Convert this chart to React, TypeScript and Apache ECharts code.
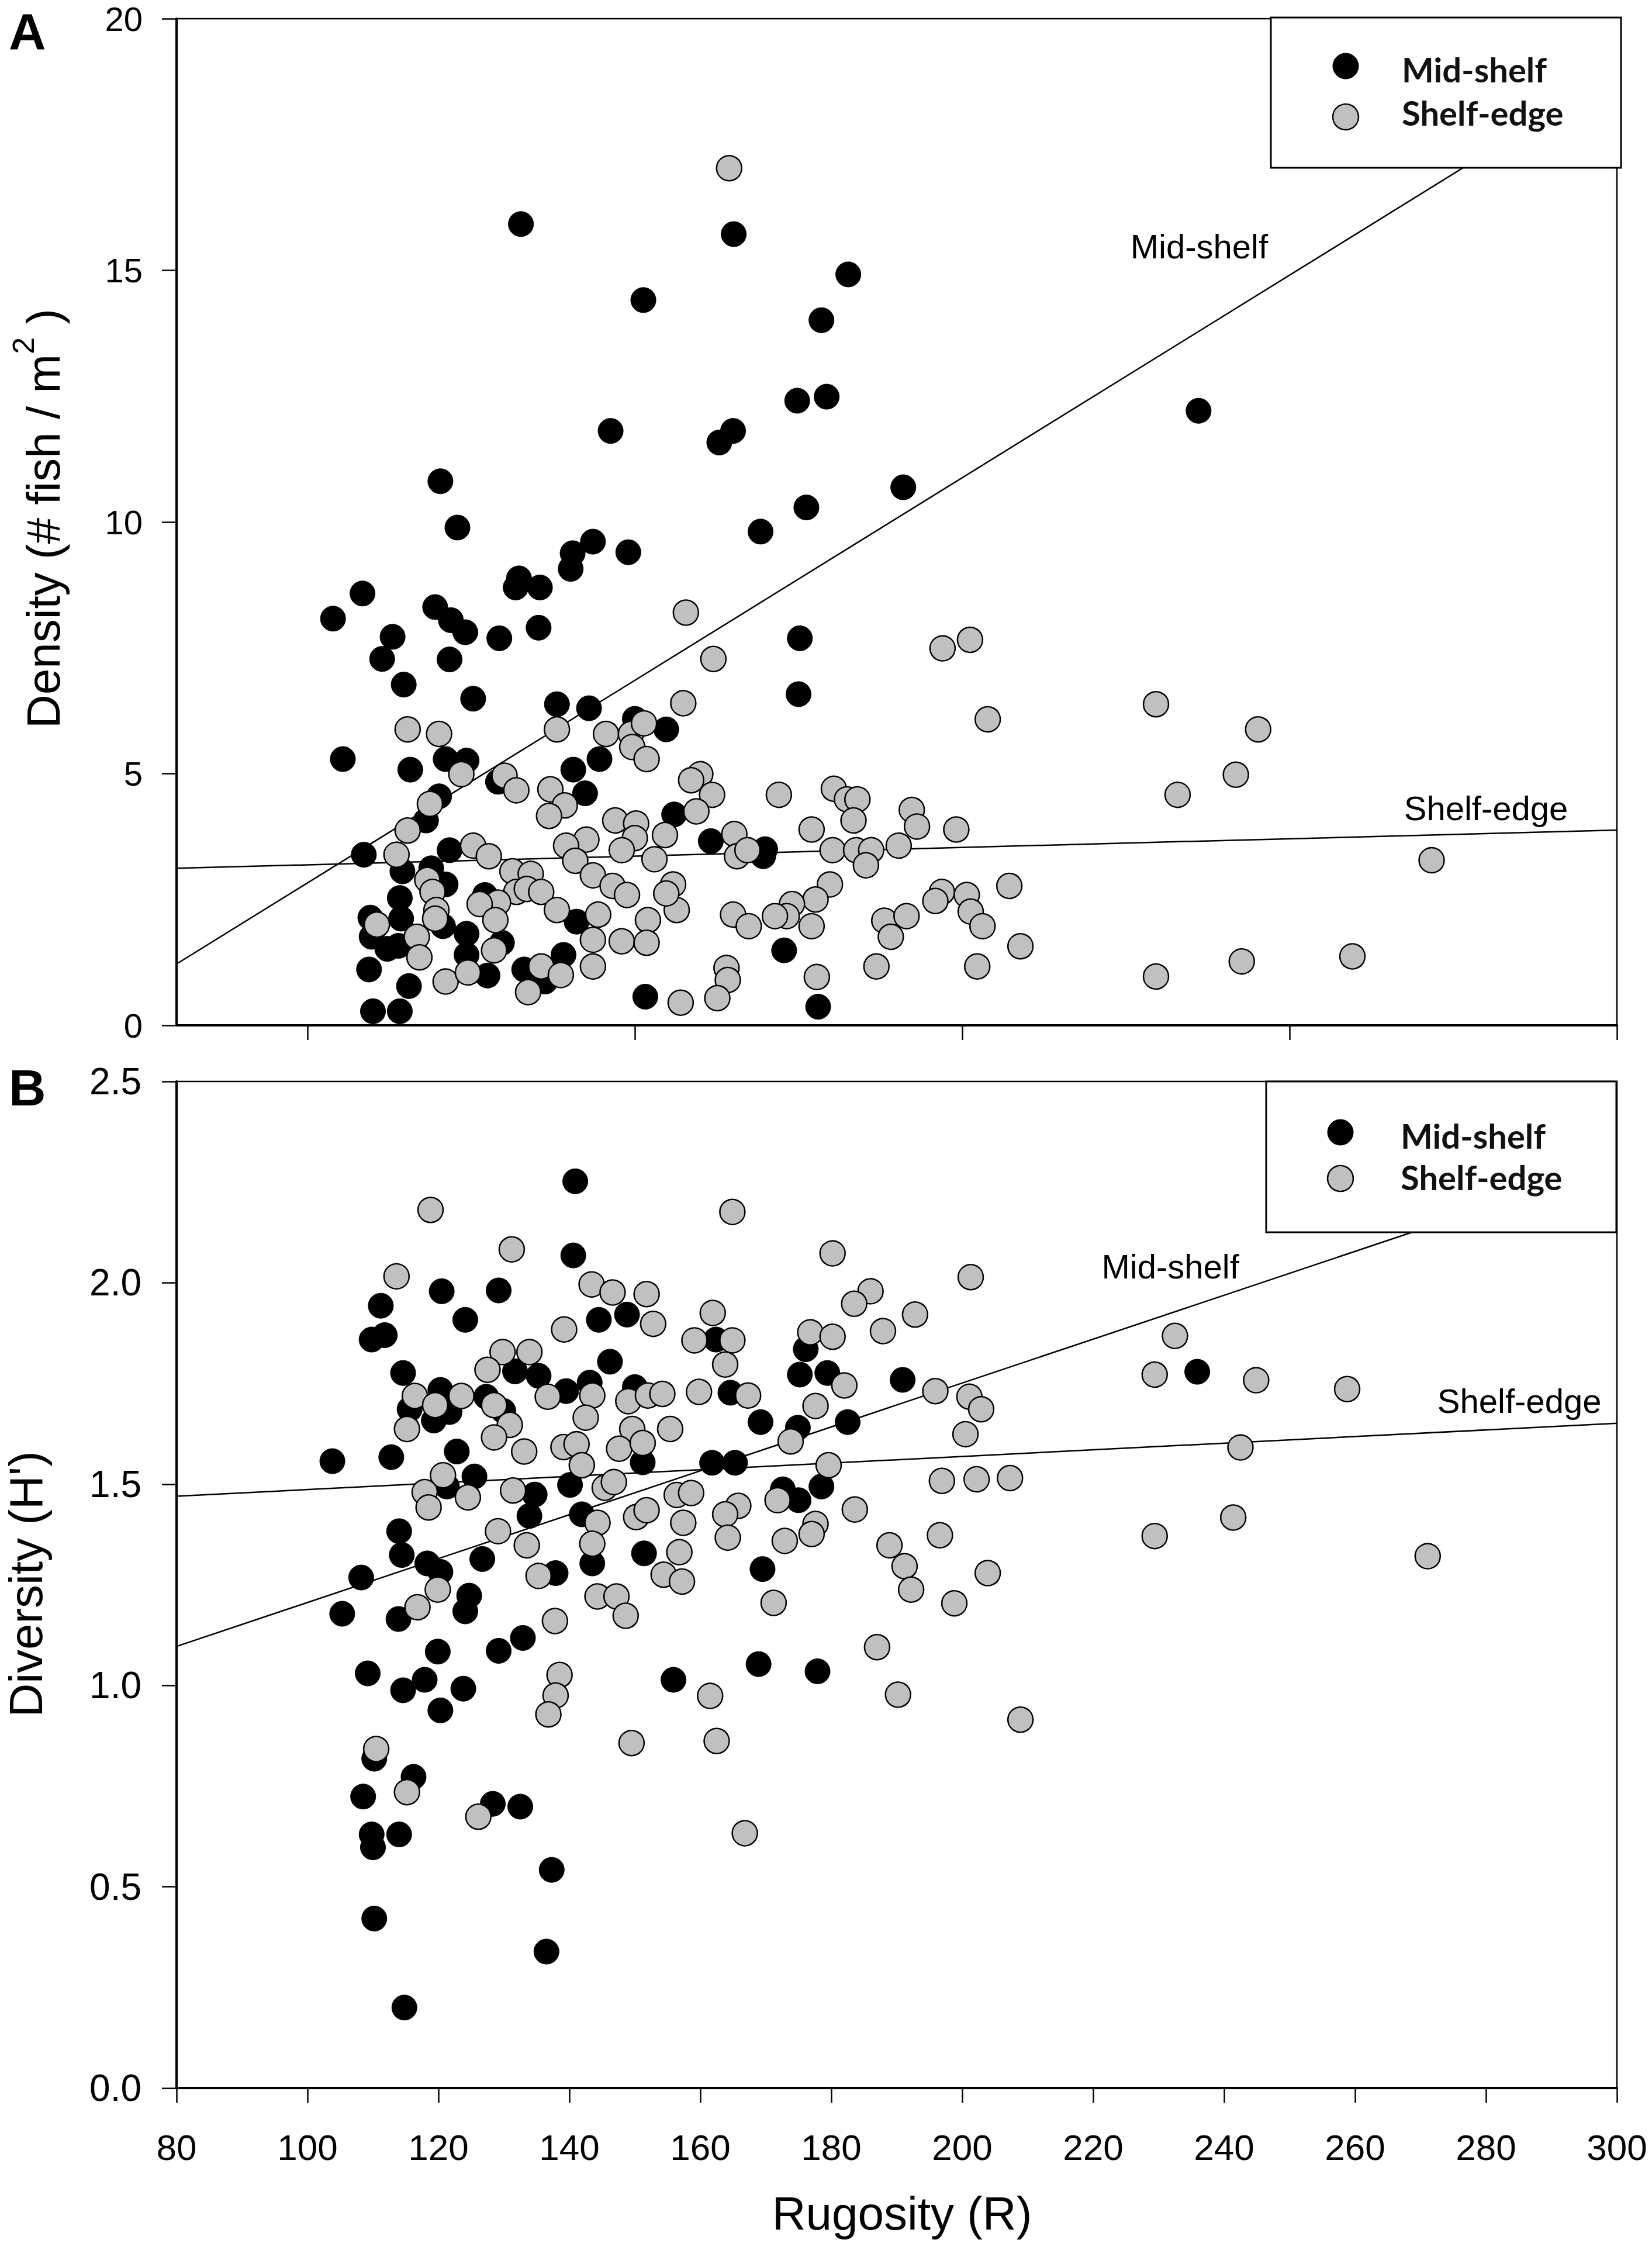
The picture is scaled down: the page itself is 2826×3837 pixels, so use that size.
import React, { useEffect, useRef } from "react";
import * as echarts from "echarts";

const PAGE_W = 2826;
const PAGE_H = 3837;

// ---------- Panel A: Density (# fish / m2) vs Rugosity ----------
const densityMidShelf: number[][] = [
  [132.6, 15.92], [165.1, 15.72], [151.3, 14.41], [182.6, 14.92], [178.5, 14.01], [174.8, 12.41],
  [179.3, 12.49], [146.3, 11.81], [162.9, 11.58], [165.0, 11.81], [120.3, 10.81], [122.9, 9.89],
  [176.2, 10.29], [169.2, 9.81], [143.6, 9.61], [140.5, 9.38], [140.2, 9.07], [149.0, 9.40],
  [191.0, 10.69], [236.1, 12.21], [175.2, 7.69], [175.0, 6.58],
  [132.3, 8.88], [131.8, 8.70], [135.5, 8.70], [108.4, 8.58], [103.9, 8.08], [119.5, 8.31],
  [121.9, 8.05], [124.1, 7.81], [129.3, 7.69], [135.3, 7.9], [113.0, 7.72], [111.4, 7.28],
  [121.7, 7.27], [114.7, 6.77], [125.3, 6.49], [138.1, 6.38], [143.0, 6.3], [150.0, 6.09],
  [154.8, 5.88], [105.4, 5.29], [115.7, 5.08], [121.1, 5.29], [124.3, 5.26], [129.1, 4.84],
  [144.6, 5.29], [140.6, 5.08], [142.4, 4.61], [120.1, 4.55], [118.1, 4.07], [156.0, 4.19],
  [108.6, 3.39], [161.6, 3.66], [114.5, 3.06], [118.9, 3.12], [121.1, 2.8], [121.7, 3.48],
  [114.1, 2.53], [114.3, 2.12], [113.9, 1.58], [109.6, 2.14], [109.8, 1.76], [109.4, 1.11],
  [112.2, 1.52], [115.5, 0.78], [110.0, 0.28], [114.1, 0.28], [120.7, 1.97], [124.3, 1.82],
  [124.3, 1.40], [127.5, 0.99], [129.7, 1.64], [139.1, 1.40], [133.1, 1.11], [136.3, 0.87],
  [141.1, 2.06], [151.6, 0.57], [127.1, 2.59],
  [169.6, 3.36], [169.9, 3.5], [172.8, 1.49], [178.0, 0.37],
];

const densityShelfEdge: number[][] = [
  [164.4, 17.03], [157.8, 8.2], [162.0, 7.28], [157.4, 6.40], [197.0, 7.49], [201.2, 7.66],
  [203.9, 6.08], [229.6, 6.38], [245.2, 5.88], [241.8, 4.98], [232.9, 4.58], [271.7, 3.28],
  [229.6, 0.97], [242.7, 1.27], [259.6, 1.37], [208.9, 1.57], [202.3, 1.17], [186.9, 1.17],
  [207.2, 2.77],
  [160.0, 4.99], [158.6, 4.87], [161.8, 4.58], [159.4, 4.25], [172.0, 4.58], [180.4, 4.70],
  [182.4, 4.49], [184.0, 4.49], [183.4, 4.07], [192.3, 4.28], [193.1, 3.95], [199.1, 3.89],
  [165.2, 3.80], [165.6, 3.36], [167.2, 3.48], [177.0, 3.89], [180.2, 3.48], [183.8, 3.48],
  [186.1, 3.48], [185.3, 3.18], [190.3, 3.57], [155.85, 2.8], [156.4, 2.29], [179.8, 2.8],
  [177.6, 2.5], [174.0, 2.41], [173.2, 2.17], [171.4, 2.17], [177.0, 1.97], [165.0, 2.2],
  [167.4, 1.97], [188.1, 2.08], [191.5, 2.17], [189.1, 1.76], [196.9, 2.65], [195.9, 2.47],
  [200.7, 2.59], [201.3, 2.26], [203.1, 1.97], [164.0, 1.14], [164.2, 0.9], [162.6, 0.54],
  [157.0, 0.45], [177.8, 0.96],
  [115.3, 5.88], [120.1, 5.79], [138.1, 5.88], [145.6, 5.79], [149.4, 5.79], [151.4, 6.0],
  [149.6, 5.53], [151.8, 5.29], [123.5, 4.99], [130.1, 4.96], [131.9, 4.67], [137.1, 4.69],
  [139.3, 4.37], [136.9, 4.16], [118.7, 4.40], [115.3, 3.87], [147.0, 4.07], [150.2, 4.01],
  [154.6, 3.78], [150.0, 3.72], [148.0, 3.48], [142.6, 3.69], [139.5, 3.57], [140.9, 3.27],
  [153.0, 3.30], [113.6, 3.39], [125.3, 3.57], [127.7, 3.36], [131.3, 3.06], [134.1, 3.01],
  [143.6, 2.98], [146.6, 2.77], [148.8, 2.59], [118.3, 2.89], [119.1, 2.65], [131.9, 2.65],
  [133.5, 2.71], [135.7, 2.65], [129.1, 2.44], [126.3, 2.41], [119.7, 2.29], [119.5, 2.12],
  [110.6, 2.0], [116.7, 1.76], [117.1, 1.35], [128.7, 2.09], [128.5, 1.49], [138.1, 2.29],
  [144.4, 2.2], [143.6, 1.7], [148.0, 1.67], [152.0, 2.09], [151.8, 1.64], [154.8, 2.62],
  [121.1, 0.87], [124.5, 1.05], [135.7, 1.17], [138.7, 1.0], [133.7, 0.66], [143.6, 1.17],
];

// ---------- Panel B: Diversity (H') vs Rugosity ----------
const diversityMidShelf: number[][] = [
  [140.9, 2.252], [140.6, 2.068], [120.5, 1.979], [129.2, 1.981], [111.2, 1.943], [124.1, 1.908],
  [144.5, 1.908], [148.8, 1.921], [109.8, 1.859], [111.8, 1.870], [114.6, 1.776], [146.2, 1.804],
  [131.7, 1.780], [135.3, 1.769], [139.5, 1.731], [143.1, 1.752], [150.0, 1.741], [115.6, 1.686],
  [120.3, 1.734], [119.3, 1.658], [121.7, 1.679], [127.3, 1.717], [129.9, 1.682], [103.8, 1.557],
  [112.8, 1.567], [122.8, 1.581], [151.2, 1.554], [125.5, 1.519], [121.3, 1.494], [140.1, 1.498],
  [134.7, 1.474], [133.9, 1.421], [141.9, 1.425], [114.0, 1.383], [114.4, 1.324], [118.3, 1.303],
  [120.3, 1.282], [126.7, 1.314], [151.4, 1.328], [143.5, 1.303], [108.2, 1.268], [137.9, 1.279],
  [105.3, 1.178], [113.9, 1.165], [124.7, 1.223], [124.1, 1.184], [119.9, 1.084], [129.2, 1.086],
  [132.9, 1.118], [109.2, 1.030], [114.6, 0.988], [117.9, 1.014], [123.8, 0.992], [120.3, 0.938],
  [155.9, 1.014], [110.2, 0.818], [116.2, 0.773], [108.5, 0.724], [128.3, 0.706], [132.5, 0.699],
  [109.8, 0.630], [110.0, 0.598], [114.0, 0.630], [137.3, 0.542], [110.2, 0.421], [136.5, 0.339],
  [114.8, 0.200],
  [162.4, 1.859], [176.1, 1.835], [175.2, 1.772], [179.4, 1.776], [190.9, 1.759], [164.6, 1.727],
  [169.2, 1.654], [174.9, 1.640], [182.5, 1.654], [161.8, 1.553], [165.3, 1.553], [172.6, 1.487],
  [175.0, 1.460], [178.5, 1.494], [169.5, 1.289], [168.9, 1.053], [177.9, 1.035], [235.9, 1.779],
];

const diversityShelfEdge: number[][] = [
  [118.8, 2.181], [131.2, 2.083], [113.6, 2.016], [143.4, 1.996], [146.6, 1.976], [151.8, 1.972],
  [152.8, 1.898], [139.2, 1.884], [129.8, 1.828], [133.9, 1.828], [127.5, 1.784], [116.4, 1.719],
  [119.5, 1.696], [123.5, 1.719], [128.5, 1.696], [136.7, 1.717], [143.5, 1.720], [149.0, 1.706],
  [152.0, 1.720], [154.2, 1.724], [142.5, 1.665], [115.2, 1.637], [130.9, 1.647], [128.5, 1.616],
  [149.6, 1.637], [155.4, 1.637], [133.1, 1.581], [139.1, 1.592], [141.1, 1.599], [147.6, 1.588],
  [151.2, 1.602], [141.9, 1.547], [120.7, 1.522], [117.9, 1.480], [118.5, 1.442], [124.5, 1.467],
  [131.4, 1.484], [145.4, 1.491], [146.8, 1.505], [156.4, 1.473], [150.2, 1.418], [151.8, 1.435],
  [144.3, 1.404], [157.4, 1.404], [129.1, 1.383], [133.5, 1.348], [143.5, 1.352], [156.8, 1.331],
  [135.3, 1.272], [154.4, 1.275],
  [119.9, 1.238], [116.8, 1.194], [144.3, 1.221], [147.2, 1.221], [148.6, 1.173], [137.8, 1.160],
  [157.2, 1.258], [138.5, 1.026], [137.9, 0.975], [136.8, 0.928], [149.5, 0.857], [110.5, 0.842],
  [115.2, 0.735], [126.1, 0.674],
  [164.9, 2.176], [180.2, 2.073], [201.3, 2.014], [186.0, 1.979], [183.5, 1.948], [192.8, 1.921],
  [161.9, 1.925], [159.1, 1.857], [164.9, 1.857], [176.8, 1.877], [180.2, 1.866], [187.9, 1.880],
  [163.8, 1.797], [159.8, 1.729], [167.3, 1.720], [182.0, 1.745], [177.6, 1.694], [195.9, 1.731],
  [201.1, 1.717], [202.9, 1.686], [200.5, 1.624], [173.8, 1.606], [179.6, 1.547], [196.9, 1.508],
  [202.2, 1.512], [207.3, 1.515], [158.6, 1.478], [171.8, 1.460], [165.8, 1.446], [163.8, 1.425],
  [183.6, 1.437], [164.2, 1.367], [177.6, 1.401], [177.0, 1.376], [172.9, 1.359], [196.6, 1.373],
  [188.9, 1.348], [191.2, 1.296], [203.9, 1.279],
  [171.2, 1.205], [192.2, 1.238], [198.8, 1.204], [187.0, 1.095], [161.5, 0.974], [190.2, 0.977],
  [162.5, 0.862], [208.9, 0.915], [166.8, 0.633],
  [229.4, 1.772], [232.5, 1.868], [229.4, 1.371], [244.9, 1.758], [242.5, 1.591], [241.4, 1.417],
  [258.8, 1.736], [271.1, 1.321],
];

// Regression lines (end points over the x range)
const densityMidFit: number[][] = [[80, 1.22], [300, 18.93]];
const densityShelfFit: number[][] = [[80, 3.12], [300, 3.88]];
const diversityMidFit: number[][] = [[80, 1.097], [300, 2.296]];
const diversityShelfFit: number[][] = [[80, 1.47], [300, 1.651]];

// Line-label anchor positions (data coords)
const densityMidLabelAt = [236.2, 15.48];
const densityShelfLabelAt = [280.0, 4.31];
const diversityMidLabelAt = [231.8, 2.04];
const diversityShelfLabelAt = [285.1, 1.706];

const xTicksA = [100, 150, 200, 250, 300];
const seriesNames = ["Mid-shelf", "Shelf-edge"];

const SANS = "'Liberation Sans', Arial, sans-serif";

function App() {
  const ref = useRef<HTMLDivElement>(null);

  useEffect(() => {
    if (!ref.current) return;
    const chart = echarts.init(ref.current, null, { renderer: "svg" });

    const gridLeft = 302;
    const gridWidth = 2464;
    const gridHeight = 1722;

    const axisLine = { show: true, onZero: false, lineStyle: { color: "#000", width: 4 } };

    const scatter = (name: string, data: number[][], idx: number, gray: boolean) => ({
      name,
      type: "scatter",
      xAxisIndex: idx,
      yAxisIndex: idx,
      data,
      symbol: "circle",
      symbolSize: 43,
      z: gray ? 4 : 3,
      itemStyle: gray
        ? { color: "#c0c0c0", borderColor: "#000", borderWidth: 2.5, opacity: 1 }
        : { color: "#000", borderColor: "#000", borderWidth: 1, opacity: 1 },
      emphasis: { disabled: true },
    });

    const fitLine = (data: number[][], idx: number, label: string, at: number[]) => ({
      type: "line",
      xAxisIndex: idx,
      yAxisIndex: idx,
      data,
      symbol: "none",
      z: 2,
      lineStyle: { color: "#000", width: 2.5 },
      emphasis: { disabled: true },
      markPoint: {
        symbol: "circle",
        symbolSize: 1,
        itemStyle: { color: "rgba(0,0,0,0)" },
        silent: true,
        label: {
          show: true,
          position: "inside",
          formatter: label,
          fontFamily: SANS,
          fontSize: 58,
          color: "#000",
        },
        data: [{ coord: at }],
      },
    });

    const legendBox = (x: number, y: number, h: number, c1: number, c2: number, t1: number, t2: number, tx: number, cx: number) => [
      {
        type: "rect",
        z: 100,
        shape: { x, y, width: 599, height: h },
        style: { fill: "#fff", stroke: "#000", lineWidth: 3 },
      },
      {
        type: "circle",
        z: 101,
        shape: { cx, cy: c1, r: 22 },
        style: { fill: "#000", stroke: "#000", lineWidth: 1 },
      },
      {
        type: "circle",
        z: 101,
        shape: { cx, cy: c2, r: 22 },
        style: { fill: "#c0c0c0", stroke: "#000", lineWidth: 2.5 },
      },
      {
        type: "text",
        z: 101,
        x: tx,
        y: t1,
        style: {
          text: seriesNames[0],
          fontFamily: "Lato, 'Open Sans', sans-serif",
          fontWeight: "bold",
          fontSize: 58,
          fill: "#111",
          align: "left",
          verticalAlign: "middle",
        },
      },
      {
        type: "text",
        z: 101,
        x: tx,
        y: t2,
        style: {
          text: seriesNames[1],
          fontFamily: "Lato, 'Open Sans', sans-serif",
          fontWeight: "bold",
          fontSize: 58,
          fill: "#111",
          align: "left",
          verticalAlign: "middle",
        },
      },
    ];

    const option: any = {
      animation: false,
      backgroundColor: "#fff",
      grid: [
        { left: gridLeft, top: 32, width: gridWidth, height: gridHeight, show: true, borderColor: "#000", borderWidth: 2.5, backgroundColor: "transparent" },
        { left: gridLeft, top: 1850, width: gridWidth, height: gridHeight, show: true, borderColor: "#000", borderWidth: 2.5, backgroundColor: "transparent" },
      ],
      xAxis: [
        {
          gridIndex: 0,
          type: "value",
          min: 80,
          max: 300,
          axisLine,
          axisTick: { show: true, customValues: xTicksA, length: 25, lineStyle: { color: "#000", width: 2.5 } },
          axisLabel: { show: false },
          splitLine: { show: false },
        },
        {
          gridIndex: 1,
          type: "value",
          min: 80,
          max: 300,
          interval: 20,
          axisLine,
          axisTick: { show: true, length: 25, lineStyle: { color: "#000", width: 2.5 } },
          axisLabel: { show: true, fontFamily: SANS, fontSize: 62, color: "#000", margin: 70 },
          splitLine: { show: false },
        },
      ],
      yAxis: [
        {
          gridIndex: 0,
          type: "value",
          min: 0,
          max: 20,
          interval: 5,
          axisLine,
          axisTick: { show: true, length: 25, lineStyle: { color: "#000", width: 2.5 } },
          axisLabel: { show: true, fontFamily: SANS, fontSize: 58, color: "#000", margin: 58 },
          splitLine: { show: false },
        },
        {
          gridIndex: 1,
          type: "value",
          min: 0,
          max: 2.5,
          interval: 0.5,
          axisLine,
          axisTick: { show: true, length: 25, lineStyle: { color: "#000", width: 2.5 } },
          axisLabel: {
            show: true,
            fontFamily: SANS,
            fontSize: 64,
            color: "#000",
            margin: 60,
            formatter: (v: number) => v.toFixed(1),
          },
          splitLine: { show: false },
        },
      ],
      series: [
        fitLine(densityMidFit, 0, "Mid-shelf", densityMidLabelAt),
        fitLine(densityShelfFit, 0, "Shelf-edge", densityShelfLabelAt),
        scatter(seriesNames[0], densityMidShelf, 0, false),
        scatter(seriesNames[1], densityShelfEdge, 0, true),
        fitLine(diversityMidFit, 1, "Mid-shelf", diversityMidLabelAt),
        fitLine(diversityShelfFit, 1, "Shelf-edge", diversityShelfLabelAt),
        scatter(seriesNames[0], diversityMidShelf, 1, false),
        scatter(seriesNames[1], diversityShelfEdge, 1, true),
      ],
      graphic: [
        ...legendBox(2174, 30, 257, 113, 200, 118, 192, 2398, 2302),
        ...legendBox(2166, 1850, 258, 1937, 2016, 1942, 2013, 2396, 2293),
        {
          type: "text",
          x: 15,
          y: 9,
          style: { text: "A", fontFamily: SANS, fontWeight: "bold", fontSize: 88, fill: "#000", align: "left", verticalAlign: "top" },
        },
        {
          type: "text",
          x: 15,
          y: 1816,
          style: { text: "B", fontFamily: SANS, fontWeight: "bold", fontSize: 88, fill: "#000", align: "left", verticalAlign: "top" },
        },
        {
          type: "text",
          x: 64,
          y: 887,
          rotation: Math.PI / 2,
          style: {
            text: "{a|Density (# fish / m}{b|2}{a| )}",
            align: "center",
            verticalAlign: "middle",
            fill: "#000",
            rich: {
              a: { fontFamily: SANS, fontSize: 80, lineHeight: 100, verticalAlign: "bottom", fill: "#000" },
              b: { fontFamily: SANS, fontSize: 52, lineHeight: 34, verticalAlign: "top", fill: "#000" },
            },
          },
        },
        {
          type: "text",
          x: 44,
          y: 2710,
          rotation: Math.PI / 2,
          style: { text: "Diversity (H')", fontFamily: SANS, fontSize: 80, fill: "#000", align: "center", verticalAlign: "middle" },
        },
        {
          type: "text",
          x: 1543,
          y: 3786,
          style: { text: "Rugosity (R)", fontFamily: SANS, fontSize: 80, fill: "#000", align: "center", verticalAlign: "middle" },
        },
      ],
    };

    chart.setOption(option);
    return () => chart.dispose();
  }, []);

  return (
    <div
      ref={ref}
      style={{ position: "absolute", left: 0, top: 0, width: PAGE_W, height: PAGE_H, background: "#fff" }}
    />
  );
}

export default App;
